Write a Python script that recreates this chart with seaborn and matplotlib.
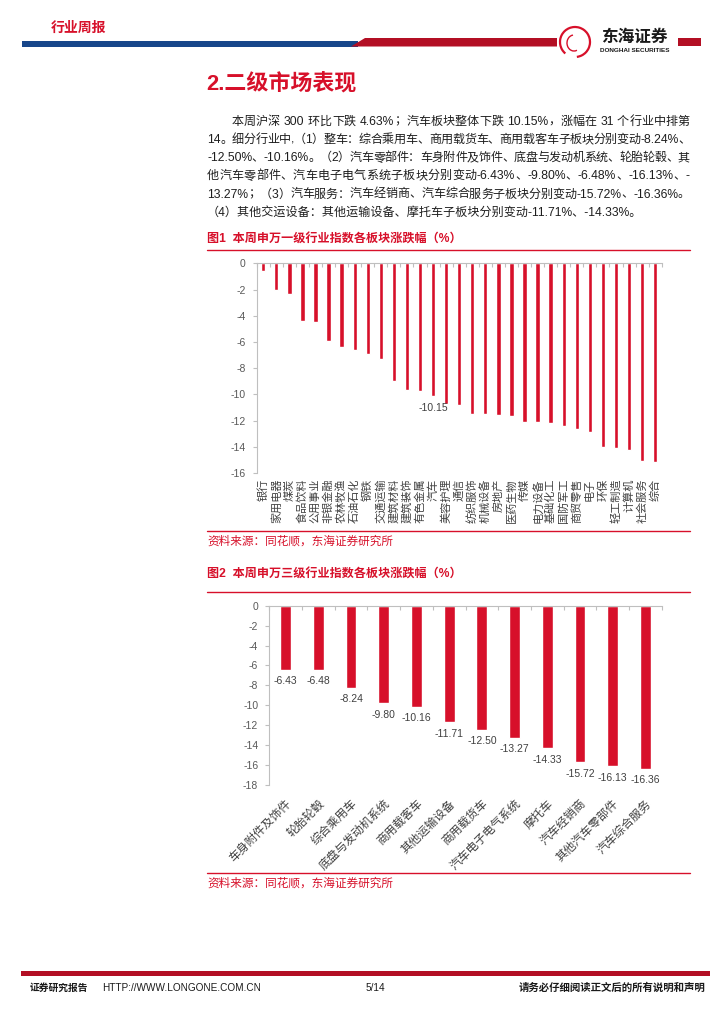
import re
import numpy as np
import seaborn as sns
import matplotlib.pyplot as plt
from matplotlib.patches import Rectangle, Polygon, Arc

# ---- data ----
ind1 = ['银行', '家用电器', '煤炭', '食品饮料', '公用事业', '非银金融', '农林牧渔', '石油石化',
        '钢铁', '交通运输', '建筑材料', '建筑装饰', '有色金属', '汽车', '美容护理', '通信',
        '纺织服饰', '机械设备', '房地产', '医药生物', '传媒', '电力设备', '基础化工', '国防军工',
        '商贸零售', '电子', '环保', '轻工制造', '计算机', '社会服务', '综合']
chg1 = [-0.56, -2.06, -2.31, -4.42, -4.47, -5.89, -6.35, -6.63, -6.93, -7.26, -8.97, -9.63,
        -9.73, -10.15, -10.74, -10.82, -11.46, -11.48, -11.53, -11.61, -12.07, -12.12, -12.14,
        -12.40, -12.60, -12.85, -14.00, -14.10, -14.22, -15.09, -15.14]
auto_name = '汽车'

ind2 = ['车身附件及饰件', '轮胎轮毂', '综合乘用车', '底盘与发动机系统', '商用载客车', '其他运输设备',
        '商用载货车', '汽车电子电气系统', '摩托车', '汽车经销商', '其他汽车零部件', '汽车综合服务']
chg2 = [-6.43, -6.48, -8.24, -9.80, -10.16, -11.71, -12.50, -13.27, -14.33, -15.72, -16.13, -16.36]

para = [
    "本周沪深 300 环比下跌 4.63%；汽车板块整体下跌 10.15%，涨幅在 31 个行业中排第",
    "14。细分行业中,（1）整车：综合乘用车、商用载货车、商用载客车子板块分别变动-8.24%、",
    "-12.50%、-10.16%。（2）汽车零部件：车身附件及饰件、底盘与发动机系统、轮胎轮毂、其",
    "他汽车零部件、汽车电子电气系统子板块分别变动-6.43%、-9.80%、-6.48%、-16.13%、-",
    "13.27%；（3）汽车服务：汽车经销商、汽车综合服务子板块分别变动-15.72%、-16.36%。",
    "（4）其他交运设备：其他运输设备、摩托车子板块分别变动-11.71%、-14.33%。",
]

RED = '#D7102A'
DARKRED = '#B30F24'
BLUE = '#17468A'
GRAY = '#BFBFBF'
TXT = '#404040'

sns.set_style("white")
plt.rcParams['font.family'] = ['Liberation Sans', 'Noto Sans CJK SC']
plt.rcParams['axes.unicode_minus'] = False

W, H = 724, 1024
fig = plt.figure(figsize=(W / 100, H / 100), dpi=100)
renderer = fig.canvas.get_renderer()


def P(x, y):
    return x / W, 1 - y / H


def hline(x0, x1, y, lw=1.0, color=RED):
    fig.add_artist(plt.Line2D([x0 / W, x1 / W], [1 - y / H, 1 - y / H], color=color, lw=lw,
                              transform=fig.transFigure))


def rect(x0, y0, x1, y1, color):
    fig.add_artist(Rectangle(P(x0, y1), (x1 - x0) / W, (y1 - y0) / H, color=color,
                             transform=fig.transFigure, lw=0))


def justified(s, x0, x1, y, **kw):
    # spread tokens so the line fills x0..x1 (like the justified paragraph)
    toks = re.findall(r'[A-Za-z0-9.%\-]+| +|.', s)
    widths = []
    for t in toks:
        tt = fig.text(0, 0, t.replace(' ', '\u00a0'), **kw)
        widths.append(tt.get_window_extent(renderer).width)
        tt.remove()
    gap = (x1 - x0 - sum(widths)) / max(len(toks) - 1, 1)
    x = x0
    for t, w in zip(toks, widths):
        if t.strip():
            fig.text(*P(x, y), t, va='center', **kw)
        x += w + gap


# ---- header ----
fig.text(*P(51, 28), '行业周报', color=RED, fontsize=10, fontweight='bold', va='center')
rect(22, 41, 358, 46.5, BLUE)
fig.add_artist(Polygon([P(351, 46.5), P(365, 38), P(557, 38), P(557, 46.5)], closed=True,
                       color=DARKRED, lw=0, transform=fig.transFigure))
rect(678, 38, 701, 45.5, DARKRED)
fig.add_artist(Arc(P(575, 42), 30 / W, 30 / H, theta1=-80, theta2=220, color=RED, lw=1.6,
                   transform=fig.transFigure))
fig.add_artist(Arc(P(574, 43), 14 / W, 16 / H, theta1=100, theta2=300, color=RED, lw=1.0,
                   transform=fig.transFigure))
fig.text(*P(634, 37), '东海证券', color='#1A1A1A', fontsize=12, fontweight='bold',
         ha='center', va='center')
fig.text(*P(635, 51), 'DONGHAI SECURITIES', color='#1A1A1A', fontsize=4.6, fontweight='bold',
         ha='center', va='center')

# ---- section title and text ----
fig.text(*P(206, 85), '2.二级市场表现', color=RED, fontsize=15.8, fontweight='bold', va='center')
line_y = [121.7, 140, 158.3, 176.3, 194.5, 213]
body = dict(fontsize=8.7, color='#1E1E1E')
for i, (s, yy) in enumerate(zip(para, line_y)):
    if i < len(para) - 1:
        justified(s, 231.5 if i == 0 else 207, 690, yy, **body)
    else:
        fig.text(*P(207, yy), s, va='center', **body)

# ---- figure 1 ----
fig.text(*P(207, 240), '图1  本周申万一级行业指数各板块涨跌幅（%）', color=RED, fontsize=8.7,
         fontweight='bold', va='center')
hline(207, 690, 249.5)

ax1 = fig.add_axes([256.7 / W, 1 - 473.2 / H, (661.7 - 256.7) / W, (473.2 - 263.3) / H])
sns.barplot(x=ind1, y=chg1, color=RED, saturation=1, width=0.33, errorbar=None, ax=ax1)
ax1.set_ylim(-16, 0)
ax1.set_xlim(-0.5, len(ind1) - 0.5)
ax1.set_yticks(range(-16, 1, 2))
k = ind1.index(auto_name)
ax1.annotate(f'{chg1[k]:.2f}', (k, chg1[k]), xytext=(0, -4.5), textcoords='offset points',
             ha='center', va='top', fontsize=7.5, color=TXT)

# ---- figure 2 ----
fig.text(*P(207, 575), '图2  本周申万三级行业指数各板块涨跌幅（%）', color=RED, fontsize=8.7,
         fontweight='bold', va='center')
hline(207, 690, 591.5)

ax2 = fig.add_axes([269.3 / W, 1 - 785 / H, (661.7 - 269.3) / W, (785 - 605.7) / H])
sns.barplot(x=ind2, y=chg2, color=RED, saturation=1, width=0.33, errorbar=None, ax=ax2)
ax2.set_ylim(-18, 0)
ax2.set_xlim(-0.5, len(ind2) - 0.5)
ax2.set_yticks(range(-18, 1, 2))
for i, v in enumerate(chg2):
    ax2.annotate(f'{v:.2f}', (i, v), xytext=(0, -4.5), textcoords='offset points',
                 ha='center', va='top', fontsize=7.5, color=TXT)

for ax, n in ((ax1, len(ind1)), (ax2, len(ind2))):
    ax.set_xlabel('')
    ax.set_ylabel('')
    for side in ('bottom', 'right'):
        ax.spines[side].set_visible(False)
    for side in ('top', 'left'):
        ax.spines[side].set_color(GRAY)
        ax.spines[side].set_linewidth(0.8)
    ax.set_xticks(np.arange(n + 1) - 0.5, minor=True)
    ax.tick_params(axis='x', which='minor', top=True, bottom=False, direction='in',
                   length=3, color=GRAY, width=0.8)
    ax.tick_params(axis='x', which='major', length=0, colors=TXT)
    ax.tick_params(axis='y', left=True, length=3, width=0.8, color=GRAY, labelsize=7.5,
                   labelcolor='#595959', pad=5)

ax1.tick_params(axis='x', which='major', labelsize=8, labelrotation=90, pad=4)
ax2.tick_params(axis='x', which='major', labelsize=8.5, pad=9)
for lab in ax2.get_xticklabels():
    lab.set_rotation(45)
    lab.set_ha('right')
    lab.set_va('top')
    lab.set_rotation_mode('anchor')

# ---- sources ----
hline(207, 690, 531)
fig.text(*P(207, 542), '资料来源：同花顺，东海证券研究所', color=RED, fontsize=8.4, va='center')
hline(207, 690, 873)
fig.text(*P(207, 884), '资料来源：同花顺，东海证券研究所', color=RED, fontsize=8.4, va='center')

# ---- footer ----
rect(21, 970.5, 710, 976, DARKRED)
fig.text(*P(30, 988), '证券研究报告', fontsize=7, fontweight='bold', color='#1A1A1A', va='center')
fig.text(*P(102, 988), 'HTTP://WWW.LONGONE.COM.CN', fontsize=7.2, color='#1A1A1A', va='center')
fig.text(*P(375, 988), '5/14', fontsize=7.2, color='#1A1A1A', va='center', ha='center')
fig.text(*P(705, 988), '请务必仔细阅读正文后的所有说明和声明', fontsize=7.5, fontweight='bold',
         color='#1A1A1A', va='center', ha='right')

fig.savefig('out.png', dpi=100)
